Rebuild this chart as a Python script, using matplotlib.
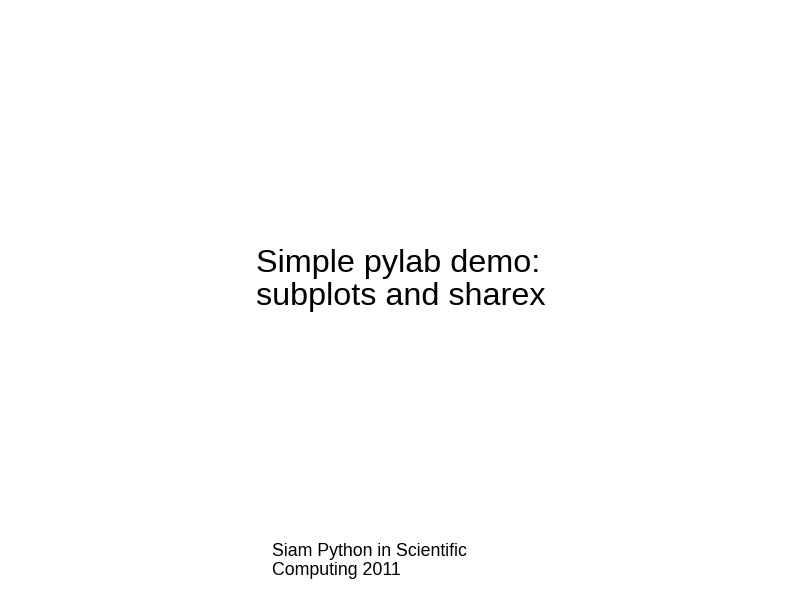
import matplotlib
matplotlib.use("Agg")
import matplotlib.pyplot as plt

# slide text
title_lines = ["Simple pylab demo:", "subplots and sharex"]
sub_lines = ["Siam Python in Scientific", "Computing 2011"]

W, H = 794, 595
fig = plt.figure(figsize=(W / 100, H / 100), dpi=100)
fig.patch.set_facecolor("white")

def put(lines, x_px, y_px, step_px, size):
    for i, s in enumerate(lines):
        fig.text(x_px / W, 1 - (y_px + i * step_px) / H, s,
                 ha="left", va="baseline", fontsize=size,
                 family="Liberation Sans", color="black")

put(title_lines, 256, 272, 33, 23.3)
put(sub_lines, 272, 556.5, 18.5, 12.8)

fig.savefig("out.png", dpi=100, facecolor="white")
